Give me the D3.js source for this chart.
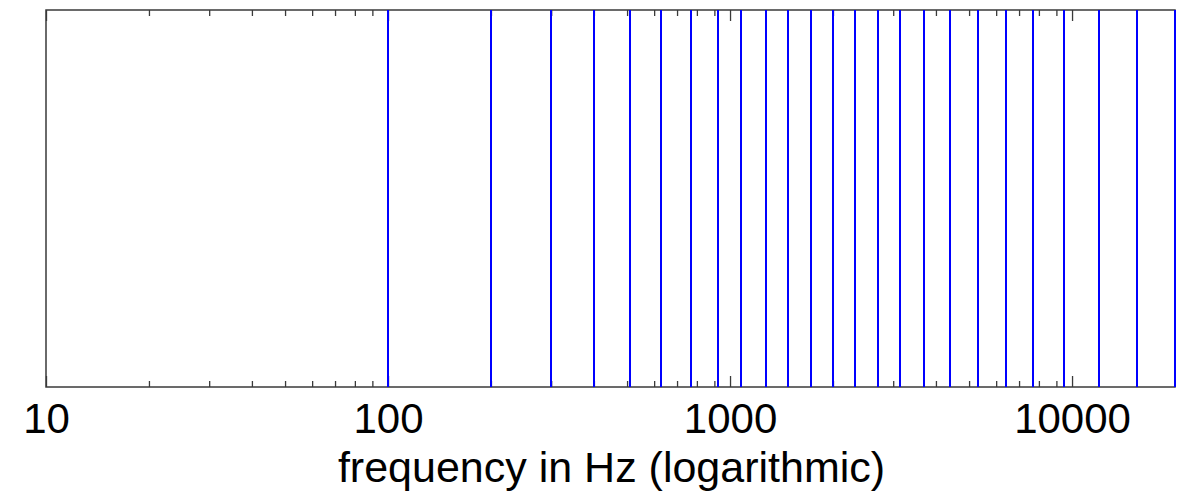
<!DOCTYPE html>
<html>
<head>
<meta charset="utf-8">
<script src="https://cdn.jsdelivr.net/npm/d3@7"></script>
<style>
  html, body { margin: 0; padding: 0; background: #fff; }
  svg { display: block; }
</style>
</head>
<body>
<svg id="chart" width="1190" height="493"></svg>
<script>
// Critical band (Bark) edge frequencies in Hz
const bandEdges = [100, 200, 300, 400, 510, 630, 770, 920, 1080, 1270, 1480, 1720,
                   2000, 2320, 2700, 3150, 3700, 4400, 5300, 6400, 7700, 9500,
                   12000, 15500, 20000];
const xDomain = [10, 20000];
const majorTicks = [10, 100, 1000, 10000];
const xLabel = "frequency in Hz (logarithmic)";

const W = 1190, H = 493;
const m = { left: 46, right: 15, top: 10, bottom: 106 };
const pw = W - m.left - m.right;
const ph = H - m.top - m.bottom;

const svg = d3.select("#chart");
const g = svg.append("g").attr("transform", `translate(${m.left},${m.top})`);

const x = d3.scaleLog().domain(xDomain).range([0, pw]);

const minorTicks = x.ticks().filter(v => !majorTicks.includes(v) && v > xDomain[0] && v < xDomain[1]);

const axisColor = "#3a3a3a";
function styleAxis(sel) {
  sel.select(".domain").remove();
  sel.selectAll(".tick line").attr("stroke", axisColor).attr("stroke-width", 1.3);
}

// bottom major ticks with labels
const bottomMajor = g.append("g")
  .attr("transform", `translate(0,${ph})`)
  .call(d3.axisBottom(x).tickValues(majorTicks).tickFormat(d3.format("d"))
        .tickSizeInner(-11).tickSizeOuter(0).tickPadding(16));
styleAxis(bottomMajor);
bottomMajor.selectAll("text")
  .attr("fill", "#000")
  .style("font-family", "'Liberation Sans', Arial, Helvetica, sans-serif")
  .style("font-size", "42px");

// bottom minor ticks
const bottomMinor = g.append("g")
  .attr("transform", `translate(0,${ph})`)
  .call(d3.axisBottom(x).tickValues(minorTicks).tickFormat("")
        .tickSizeInner(-6).tickSizeOuter(0));
styleAxis(bottomMinor);

// top ticks
const topMajor = g.append("g")
  .call(d3.axisTop(x).tickValues(majorTicks).tickFormat("")
        .tickSizeInner(-11).tickSizeOuter(0));
styleAxis(topMajor);
const topMinor = g.append("g")
  .call(d3.axisTop(x).tickValues(minorTicks).tickFormat("")
        .tickSizeInner(-6).tickSizeOuter(0));
styleAxis(topMinor);

// box
g.append("rect")
  .attr("x", 0).attr("y", 0).attr("width", pw).attr("height", ph)
  .attr("fill", "none")
  .attr("stroke", axisColor)
  .attr("stroke-width", 1.5);

// blue lines
g.selectAll("line.edge")
  .data(bandEdges)
  .join("line")
  .attr("class", "edge")
  .attr("x1", d => Math.round(x(d))).attr("x2", d => Math.round(x(d)))
  .attr("y1", 0).attr("y2", ph)
  .attr("stroke", "#0000ff")
  .attr("stroke-width", 2);

// axis label
g.append("text")
  .attr("x", pw / 2 + 1)
  .attr("y", ph + 95)
  .attr("text-anchor", "middle")
  .attr("fill", "#000")
  .style("font-family", "'Liberation Sans', Arial, Helvetica, sans-serif")
  .style("font-size", "43px")
  .text(xLabel);
</script>
</body>
</html>
